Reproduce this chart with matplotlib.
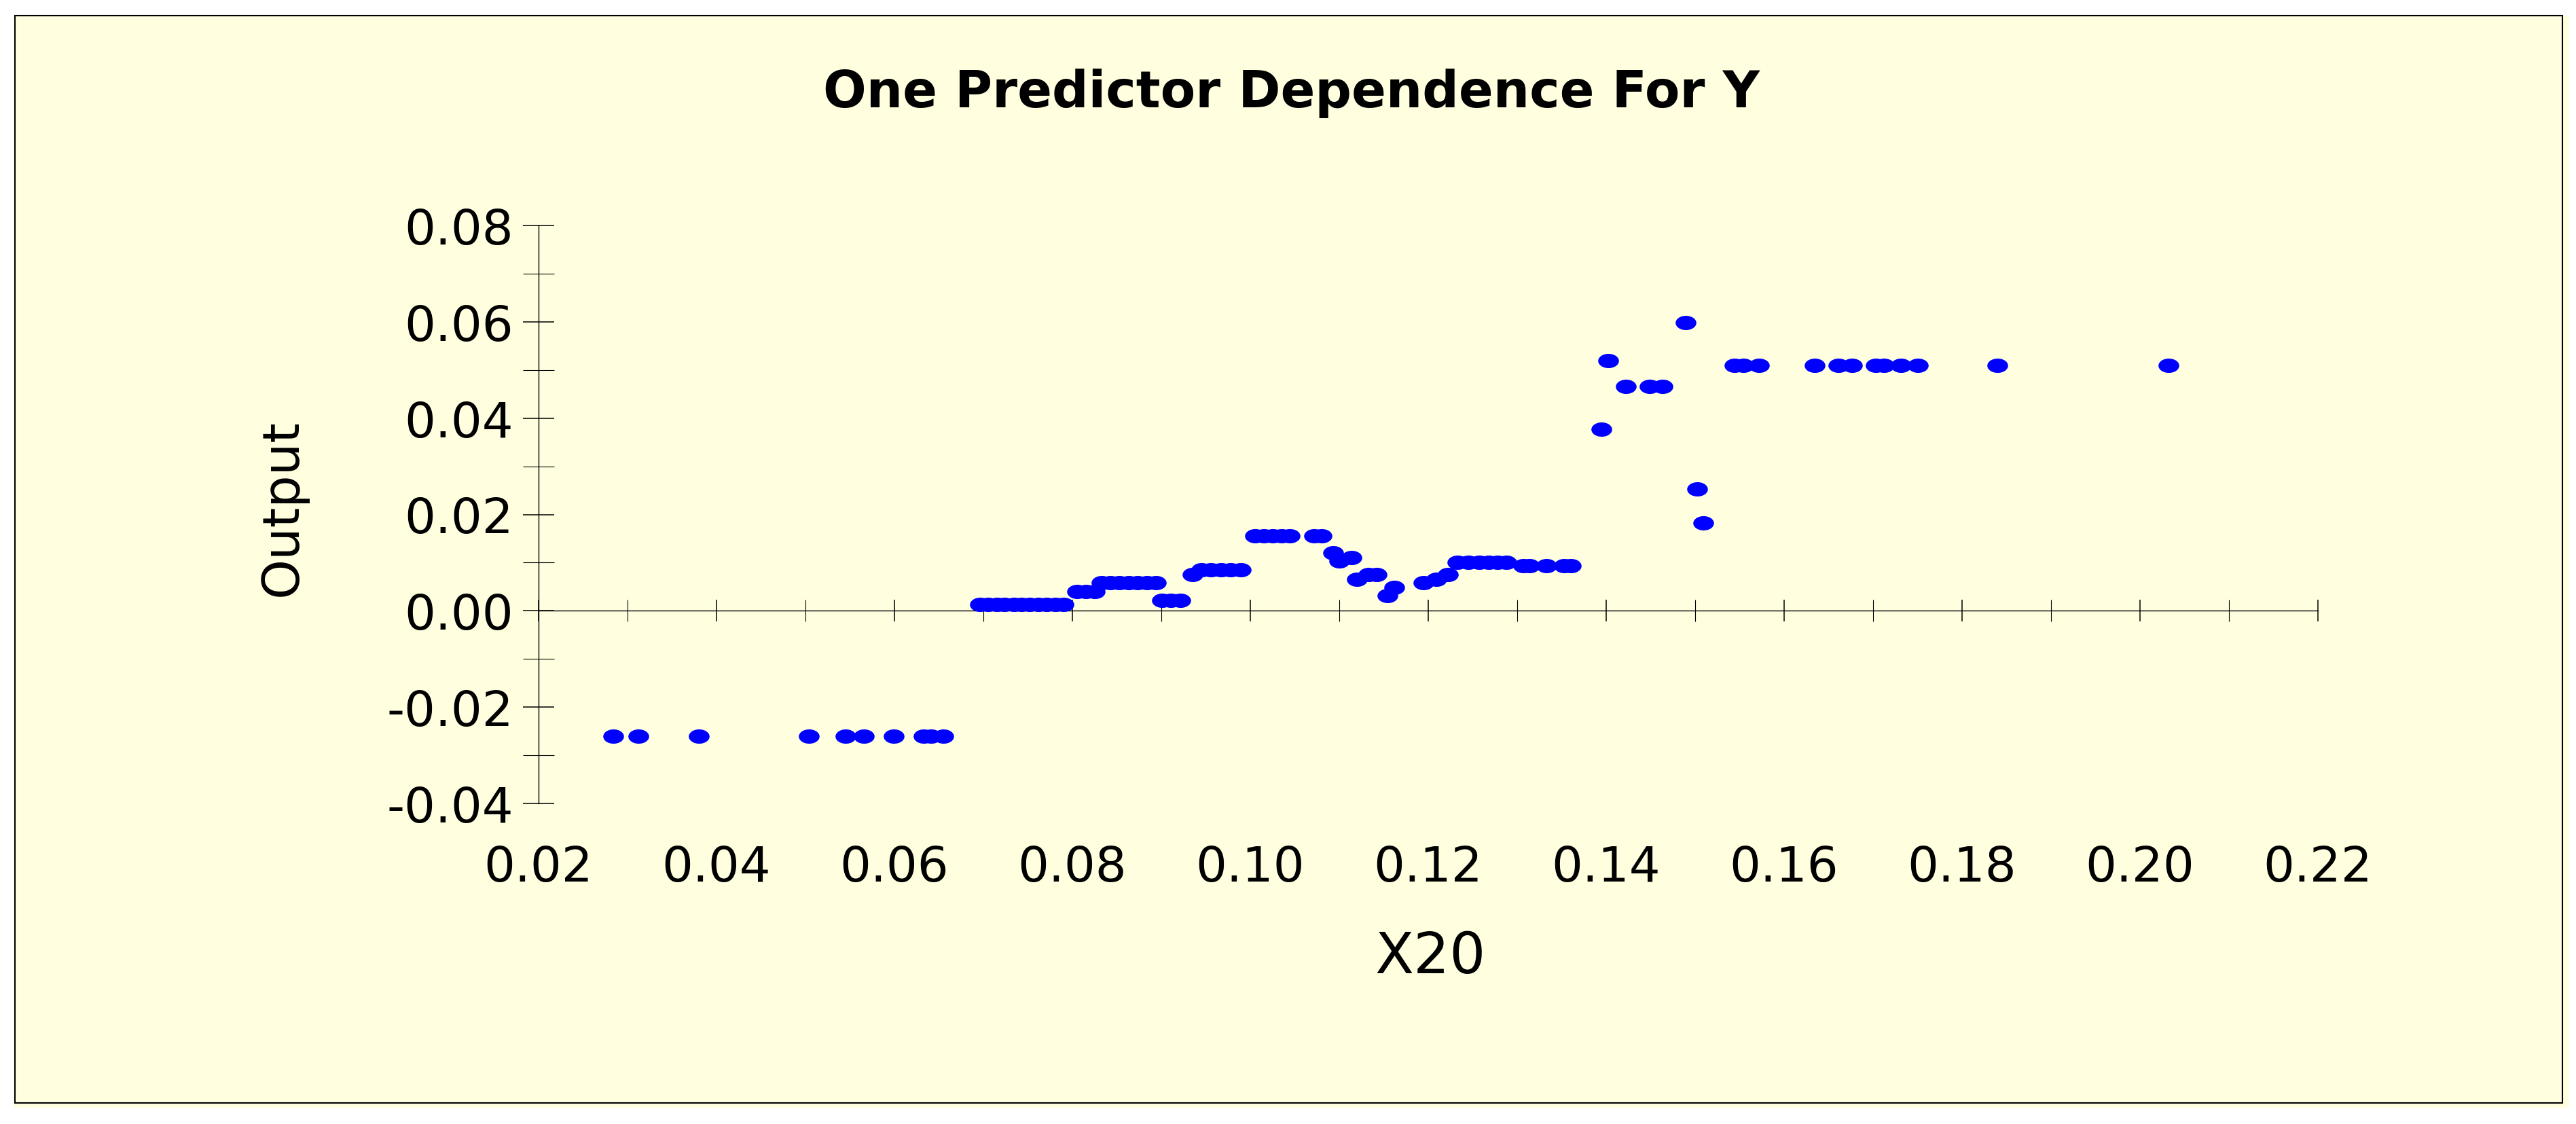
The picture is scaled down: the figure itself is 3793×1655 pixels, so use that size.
import numpy as np
import matplotlib
matplotlib.use("Agg")
import matplotlib.pyplot as plt
from matplotlib.path import Path
from matplotlib.patches import Rectangle
from matplotlib.ticker import MultipleLocator, FixedLocator

# ---- data ----
x20 = [0.0284, 0.0312, 0.0380, 0.0504, 0.0545, 0.0566, 0.0599, 0.0633, 0.0641, 0.0655,
       0.0696, 0.0705, 0.0715, 0.0724, 0.0734, 0.0743, 0.0752, 0.0762, 0.0771, 0.0781, 0.0790,
       0.0805, 0.0815, 0.0825,
       0.0833, 0.0843, 0.0853, 0.0863, 0.0873, 0.0884, 0.0894,
       0.0901, 0.0911, 0.0921,
       0.0935,
       0.0945, 0.0956, 0.0967, 0.0978, 0.0989,
       0.1005, 0.1015, 0.1025, 0.1035, 0.1044, 0.1072, 0.1080,
       0.1093, 0.1100, 0.1114, 0.1120, 0.1133, 0.1142, 0.1154, 0.1162,
       0.1195, 0.1209, 0.1222,
       0.1233, 0.1245, 0.1257, 0.1268, 0.1278, 0.1288,
       0.1307, 0.1314, 0.1333, 0.1353, 0.1360,
       0.1395, 0.1402, 0.1422, 0.1449, 0.1463, 0.1489, 0.1502, 0.1509,
       0.1544, 0.1554, 0.1572, 0.1634, 0.1661, 0.1676, 0.1703, 0.1712, 0.1731, 0.1750,
       0.1840, 0.2032]
output = [-0.026, -0.026, -0.026, -0.026, -0.026, -0.026, -0.026, -0.026, -0.026, -0.026,
          0.0013, 0.0013, 0.0013, 0.0013, 0.0013, 0.0013, 0.0013, 0.0013, 0.0013, 0.0013, 0.0013,
          0.0040, 0.0040, 0.0040,
          0.0058, 0.0058, 0.0058, 0.0058, 0.0058, 0.0058, 0.0058,
          0.0022, 0.0022, 0.0022,
          0.0075,
          0.0085, 0.0085, 0.0085, 0.0085, 0.0085,
          0.0155, 0.0155, 0.0155, 0.0155, 0.0155, 0.0155, 0.0155,
          0.0120, 0.0103, 0.0111, 0.0066, 0.0075, 0.0075, 0.0031, 0.0048,
          0.0058, 0.0066, 0.0075,
          0.0101, 0.0101, 0.0101, 0.0101, 0.0101, 0.0101,
          0.0093, 0.0093, 0.0093, 0.0093, 0.0093,
          0.0377, 0.0520, 0.0466, 0.0466, 0.0466, 0.0599, 0.0253, 0.0182,
          0.0510, 0.0510, 0.0510, 0.0510, 0.0510, 0.0510, 0.0510, 0.0510, 0.0510, 0.0510,
          0.0510, 0.0510]

x_major_ticks = [0.02, 0.04, 0.06, 0.08, 0.10, 0.12, 0.14, 0.16, 0.18, 0.20, 0.22]
y_major_ticks = [-0.04, -0.02, 0.00, 0.02, 0.04, 0.06, 0.08]

title = "One Predictor Dependence For Y"
xlabel = "X20"
ylabel = "Output"

# ---- figure ----
W, H = 3793, 1656
fig = plt.figure(figsize=(W / 100, H / 100), dpi=100, facecolor="white")

def fx(px):
    return px / W

def fy(py):
    return 1 - py / H

# light-yellow panel with black border
fig.add_artist(Rectangle((fx(20), fy(1632)), fx(3783) - fx(20), fy(24) - fy(1632),
                         transform=fig.transFigure, facecolor="#FFFFE0", edgecolor="none", zorder=0))
fig.add_artist(Rectangle((fx(22), fy(1625)), fx(3773) - fx(22), fy(24) - fy(1625),
                         transform=fig.transFigure, facecolor="none", edgecolor="black",
                         linewidth=1.5, zorder=1))

ax = fig.add_axes([fx(793), fy(1184), fx(3413) - fx(793), fy(333) - fy(1184)])
ax.set_facecolor("none")
ax.set_xlim(0.02, 0.22)
ax.set_ylim(-0.04, 0.08)

for s in ("top", "right"):
    ax.spines[s].set_visible(False)
ax.spines["bottom"].set_position(("data", 0))
ax.spines["bottom"].set_linewidth(1.0)
ax.spines["left"].set_linewidth(1.0)

# elliptical marker (wider than tall)
circ = Path.unit_circle()
ell = Path(circ.vertices * np.array([1.0, 0.69]), circ.codes)

ax.plot(x20, output, linestyle="none", marker=ell, markersize=22,
        color="#0000FF", markeredgecolor="#0000FF", markeredgewidth=0, zorder=3)

ax.xaxis.set_major_locator(FixedLocator(x_major_ticks))
ax.xaxis.set_minor_locator(MultipleLocator(0.01))
ax.set_xticks(x_major_ticks)
ax.set_xticklabels([f"{v:.2f}" for v in x_major_ticks])
ax.yaxis.set_major_locator(FixedLocator(y_major_ticks))
ax.yaxis.set_minor_locator(MultipleLocator(0.01))
ax.set_yticks(y_major_ticks)
ax.set_yticklabels([f"{v:.2f}" for v in y_major_ticks])

ax.tick_params(axis="x", which="both", direction="inout", length=23, width=1.1,
               labelsize=52, pad=236, colors="black")
ax.tick_params(axis="x", which="minor", width=0.8)
ax.tick_params(axis="y", which="both", direction="inout", length=33, width=1.1,
               labelsize=52, pad=10, colors="black")
ax.tick_params(axis="y", which="minor", width=0.8)

ax.set_xlabel(xlabel, fontsize=60, va="center")
ax.xaxis.set_label_coords((2106 - 793) / 2620, (1184 - 1410) / 851)
ax.set_ylabel(ylabel, fontsize=54, va="center")
ax.yaxis.set_label_coords((416 - 793) / 2620, (1184 - 748) / 851)

fig.text(fx(1902), fy(138), title, fontsize=54, fontweight="bold",
         ha="center", va="center")

fig.savefig("out.png", dpi=100, facecolor="white")
